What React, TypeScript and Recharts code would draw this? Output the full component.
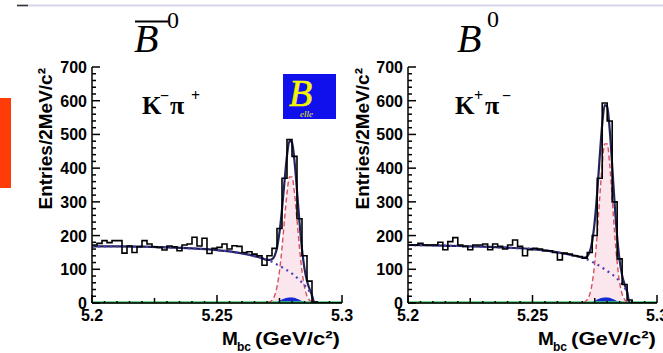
import { ComposedChart, Line, Area, XAxis, YAxis, ReferenceLine } from 'recharts';

// histogram binning: 2 MeV bins from 5.2 to 5.3 GeV
const BIN_START = 5.2;
const BIN_WIDTH = 0.002;

// entries per bin, anti-B0 -> K- pi+
const countsBbar = [
  172, 177, 185, 179, 185, 185, 148, 169, 150, 167,
  185, 175, 167, 165, 157, 169, 167, 155, 172, 175,
  195, 169, 192, 147, 162, 165, 175, 160, 170, 168,
  150, 152, 145, 140, 112, 140, 162, 221, 370, 485,
  435, 250, 140, 65, 3, 0, 0, 0, 0, 0,
];

// entries per bin, B0 -> K+ pi-
const countsB = [
  172, 172, 177, 172, 172, 172, 180, 158, 182, 194,
  172, 168, 158, 172, 172, 175, 158, 175, 168, 160,
  172, 187, 168, 140, 158, 162, 160, 155, 155, 150,
  128, 148, 145, 140, 138, 133, 150, 200, 370, 593,
  540, 300, 131, 55, 9, 0, 0, 0, 0, 0,
];

// fit curves sampled at these Mbc values
const fitX = [
  5.2, 5.21, 5.22, 5.23, 5.24, 5.25, 5.255, 5.26, 5.265, 5.268, 5.27,
  5.271, 5.272, 5.273, 5.274, 5.275, 5.276, 5.277, 5.278, 5.279, 5.28,
  5.281, 5.282, 5.283, 5.284, 5.285, 5.286, 5.287, 5.288, 5.289, 5.29, 5.3,
];

const bkgBbar = [
  168, 168, 167, 165, 162, 157, 153, 147, 139, 133, 128,
  125, 122, 118, 114, 110, 106, 101, 97, 92, 87,
  81, 75, 68, 61, 53, 44, 34, 20, 0, 0, 0,
];
const sigBbar = [
  0, 0, 0, 0, 0, 0, 0, 0, 0, 0, 0,
  3, 8, 21, 48, 95, 163, 247, 326, 374, 374,
  326, 247, 163, 95, 48, 21, 8, 3, 0, 0, 0,
];
const peakBbar = [
  0, 0, 0, 0, 0, 0, 0, 0, 0, 0, 0,
  0, 0, 0, 2, 5, 9, 12, 14, 15, 15,
  14, 11, 8, 4, 1, 0, 0, 0, 0, 0, 0,
];

const bkgB = [
  172, 171, 169, 167, 164, 160, 156, 150, 143, 139, 135,
  132, 129, 126, 122, 118, 114, 110, 105, 100, 95,
  90, 85, 79, 72, 65, 56, 45, 30, 0, 0, 0,
];
const sigB = [
  0, 0, 0, 0, 0, 0, 0, 0, 0, 0, 0,
  3, 10, 26, 60, 120, 206, 312, 411, 472, 472,
  411, 312, 206, 120, 60, 26, 10, 3, 0, 0, 0,
];
const peakB = [
  0, 0, 0, 0, 0, 0, 0, 0, 0, 0, 0,
  0, 0, 0, 2, 5, 9, 12, 14, 15, 15,
  14, 11, 8, 4, 1, 0, 0, 0, 0, 0, 0,
];

const yTicks = [
  0, 20, 40, 60, 80, 100, 120, 140, 160, 180, 200, 220, 240, 260, 280, 300, 320, 340,
  360, 380, 400, 420, 440, 460, 480, 500, 520, 540, 560, 580, 600, 620, 640, 660, 680, 700,
];
const xTicks = [
  5.2, 5.205, 5.21, 5.215, 5.22, 5.225, 5.23, 5.235, 5.24, 5.245, 5.25,
  5.255, 5.26, 5.265, 5.27, 5.275, 5.28, 5.285, 5.29, 5.295, 5.3,
];
const xLabels = ['5.2', '5.25', '5.3'];

const SANS = '"Liberation Sans", Arial, sans-serif';
const SERIF = '"Liberation Serif", "Times New Roman", serif';

const toSteps = (counts: number[]) =>
  counts
    .map((c, i) => ({ x: +(BIN_START + i * BIN_WIDTH).toFixed(3), y: c }))
    .concat([{ x: 5.3, y: counts[counts.length - 1] }]);

const toFit = (bkg: number[], sig: number[], peak: number[]) =>
  fitX.map((x, i) => ({ x, bkg: bkg[i], sig: sig[i], peak: peak[i], total: bkg[i] + sig[i] + peak[i] }));

// inward ticks, long every 100, short every 20
const YTick = ({ x, y, payload }: any) => {
  const v = payload.value;
  const major = v % 100 === 0;
  return (
    <g>
      <line x1={x} x2={x + (major ? 8 : 4)} y1={y} y2={y} stroke="#000" strokeWidth={1.5} />
      {major && (
        <text x={x - 5} y={y} dy={6} textAnchor="end" fontFamily={SANS} fontWeight="bold" fontSize={16} fill="#000">
          {v}
        </text>
      )}
    </g>
  );
};

const XTick = ({ x, y, payload }: any) => {
  const v = payload.value;
  const label = String(v);
  const labeled = xLabels.includes(label);
  const mid = Math.abs(Math.round(v * 40) - v * 40) < 1e-6;
  const len = labeled ? 8 : mid ? 5 : 2;
  return (
    <g>
      <line x1={x} x2={x} y1={y} y2={y - len} stroke="#000" strokeWidth={1.5} />
      {labeled && (
        <text x={x} y={y + 18} textAnchor="middle" fontFamily={SANS} fontWeight="bold" fontSize={16} fill="#000">
          {label}
        </text>
      )}
    </g>
  );
};

interface PanelProps {
  left: number;
  width: number;
  yWidth: number;
  right: number;
  counts: number[];
  bkg: number[];
  sig: number[];
  peak: number[];
}

function Panel({ left, width, yWidth, right, counts, bkg, sig, peak }: PanelProps) {
  const hist = toSteps(counts);
  const fit = toFit(bkg, sig, peak);
  const frame = { stroke: '#000', strokeWidth: 1.5 };
  return (
    <div style={{ position: 'absolute', left, top: 0 }}>
      <ComposedChart width={width} height={353} margin={{ top: 67, right, bottom: 0, left: 0 }}>
        <XAxis
          type="number"
          dataKey="x"
          domain={[5.2, 5.3]}
          ticks={xTicks}
          interval={0}
          height={50}
          tickSize={0}
          tickMargin={0}
          tickLine={false}
          tick={<XTick />}
          axisLine={frame}
          allowDataOverflow
        />
        <XAxis xAxisId="top" orientation="top" type="number" domain={[5.2, 5.3]} height={0} tick={false} tickLine={false} axisLine={frame} />
        <YAxis
          type="number"
          domain={[0, 700]}
          ticks={yTicks}
          interval={0}
          width={yWidth}
          tickSize={0}
          tickMargin={0}
          tickLine={false}
          tick={<YTick />}
          axisLine={frame}
          allowDataOverflow
        />
        <YAxis yAxisId="r" orientation="right" type="number" domain={[0, 700]} width={0} tick={false} tickLine={false} axisLine={frame} />

        <Area data={fit} dataKey="sig" type="monotone" fill="#fbe6ee" fillOpacity={1} stroke="none" isAnimationActive={false} />
        <ReferenceLine y={1.5} stroke="#3ccb6c" strokeWidth={2.5} />
        <Area data={fit} dataKey="peak" type="monotone" fill="#1428d2" fillOpacity={1} stroke="#1428d2" isAnimationActive={false} />
        <Line data={fit} dataKey="sig" type="monotone" stroke="#d8505e" strokeWidth={1.4} strokeDasharray="5 3" dot={false} isAnimationActive={false} />
        <Line data={fit} dataKey="total" type="monotone" stroke="#23235a" strokeWidth={2.2} dot={false} isAnimationActive={false} />
        <Line data={fit} dataKey="bkg" type="monotone" stroke="#4a40b8" strokeWidth={2.2} strokeDasharray="2 4" dot={false} isAnimationActive={false} />
        <Line data={hist} dataKey="y" type="stepAfter" stroke="#000" strokeWidth={1.6} dot={false} isAnimationActive={false} />
      </ComposedChart>
    </div>
  );
}

function Overlay() {
  const sans = { fontFamily: SANS, fontWeight: 'bold' as const, fill: '#000' };
  return (
    <svg width={663} height={353} style={{ position: 'absolute', left: 0, top: 0, pointerEvents: 'none' }}>
      <line x1={17} x2={663} y1={5.5} y2={5.5} stroke="#d6d6ec" strokeWidth={2} />
      <line x1={17} x2={28} y1={5.5} y2={5.5} stroke="#333" strokeWidth={1.5} />
      <rect x={0} y={98} width={11} height={90} fill="#ff3c08" />

      {/* panel titles */}
      <line x1={135} x2={168} y1={21.5} y2={21.5} stroke="#000" strokeWidth={2} />
      <text x={134} y={52} fontFamily={SERIF} fontStyle="italic" fontSize={40} fill="#000">B</text>
      <text x={167} y={28} fontFamily={SERIF} fontSize={24} fill="#000">0</text>
      <text x={457} y={52} fontFamily={SERIF} fontStyle="italic" fontSize={40} fill="#000">B</text>
      <text x={487} y={27} fontFamily={SERIF} fontSize={24} fill="#000">0</text>

      {/* decay modes */}
      <text fontFamily={SERIF} fontWeight="bold" fill="#000">
        <tspan x={142} y={114} fontSize={25}>K</tspan>
        <tspan x={160} y={101} fontSize={16}>−</tspan>
        <tspan x={170} y={114} fontSize={26}>π</tspan>
        <tspan x={191} y={101} fontSize={16}>+</tspan>
      </text>
      <text fontFamily={SERIF} fontWeight="bold" fill="#000">
        <tspan x={455} y={114} fontSize={25}>K</tspan>
        <tspan x={474} y={101} fontSize={16}>+</tspan>
        <tspan x={485} y={114} fontSize={26}>π</tspan>
        <tspan x={502} y={101} fontSize={16}>−</tspan>
      </text>

      {/* Belle logo */}
      <rect x={283} y={74} width={53} height={45} fill="#1010ec" />
      <text x={289} y={106} fontFamily={SERIF} fontStyle="italic" fontSize={38} fill="#f4f400" stroke="#f4f400" strokeWidth={0.6}>B</text>
      <text x={300} y={117} fontFamily={SERIF} fontStyle="italic" fontSize={9} fill="#f4f400">elle</text>

      {/* axis titles */}
      <text x={52} y={68} transform="rotate(-90 52 68)" textAnchor="end" fontSize={19} {...sans}>Entries/2MeV/c²</text>
      <text x={369} y={68} transform="rotate(-90 369 68)" textAnchor="end" fontSize={19} {...sans}>Entries/2MeV/c²</text>

      <text x={222} y={345} fontSize={19} {...sans}>M</text>
      <text x={237} y={351} fontSize={12} {...sans}>bc</text>
      <text x={255} y={345} fontSize={19} textLength={85} lengthAdjust="spacingAndGlyphs" {...sans}>(GeV/c²)</text>
      <text x={538} y={345} fontSize={19} {...sans}>M</text>
      <text x={553} y={351} fontSize={12} {...sans}>bc</text>
      <text x={571} y={345} fontSize={19} textLength={85} lengthAdjust="spacingAndGlyphs" {...sans}>(GeV/c²)</text>
    </svg>
  );
}

export default function App() {
  return (
    <div style={{ position: 'absolute', left: 0, top: 0, width: 663, height: 353, background: '#fff' }}>
      <Panel left={0} width={362} yWidth={92} right={20} counts={countsBbar} bkg={bkgBbar} sig={sigBbar} peak={peakBbar} />
      <Panel left={315} width={348} yWidth={93} right={6} counts={countsB} bkg={bkgB} sig={sigB} peak={peakB} />
      <Overlay />
    </div>
  );
}
